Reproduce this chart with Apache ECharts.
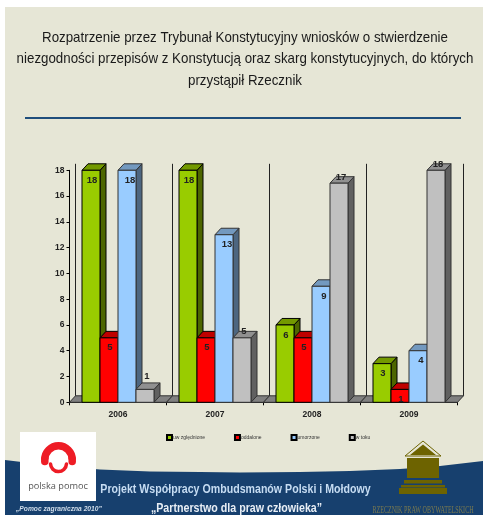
<!DOCTYPE html>
<html><head><meta charset="utf-8">
<style>html,body{margin:0;padding:0;background:#fff;overflow:hidden}#c{width:483px;height:515px}</style>
<script src="https://cdn.jsdelivr.net/npm/echarts@6/dist/echarts.min.js"></script>
</head><body><div id="c"></div>
<script>
const categories = ['2006','2007','2008','2009'];
const uwzglednione = [18,18,6,3];
const oddalone = [5,5,5,1];
const umorzone = [18,13,9,4];
const wToku = [1,5,17,18];
const yTicks = {min:0,max:18,interval:2};
const titleText = 'Rozpatrzenie przez Trybunał Konstytucyjny wniosków o stwierdzenie\nniezgodności przepisów z Konstytucją oraz skarg konstytucyjnych, do których\nprzystąpił Rzecznik';

const DX=6, DY=6.5, BAR=18;
const FONT='"Liberation Sans",Arial,sans-serif';
const NAVY='#17406e', OLIVE='#6d6300', RED='#ee1c25', BG='#e6e6d6';

function barSeries(name,vals,idx,c,lab){
  return {name,type:'custom',coordinateSystem:'cartesian2d',
    data:vals.map((v,i)=>[i,v]),encode:{x:0,y:1},clip:false,
    itemStyle:{color:c.front,borderColor:'#000',borderWidth:0.8},
    renderItem(params,api){
      const p=api.coord([api.value(0),api.value(1)]), base=api.coord([api.value(0),0]);
      const x=p[0]+(idx-2)*BAR, y=p[1], b=base[1], w=BAR;
      const ln={stroke:c.line,lineWidth:1};
      const ly=lab.inside? y+lab.dy : y-(api.value(1)===1?13:6);
      return {type:'group',children:[
        {type:'polygon',shape:{points:[[x+w,y],[x+w+DX,y-DY],[x+w+DX,b-DY],[x+w,b]]},style:{fill:c.side,...ln}},
        {type:'polygon',shape:{points:[[x,y],[x+DX,y-DY],[x+w+DX,y-DY],[x+w,y]]},style:{fill:c.top,...ln}},
        {type:'rect',shape:{x,y,width:w,height:b-y},style:{fill:c.front,...ln}},
        {type:'text',style:{text:String(api.value(1)),x:x+w/2+lab.dx,y:ly,align:'center',verticalAlign:'middle',
          font:'bold 9.5px '+FONT,fill:'#222'}}
      ]};
    }};
}

const backdrop={type:'custom',name:'tlo',coordinateSystem:'cartesian2d',silent:true,
  data:categories.map((c,i)=>[i,0]),encode:{x:0,y:1},clip:false,
  renderItem(params,api){
    const p=api.coord([api.value(0),0]), top=api.coord([api.value(0),yTicks.max]);
    const half=api.size([1,0])[0]/2, x0=p[0]-half, x1=p[0]+half, b=p[1];
    const kids=[
      {type:'polygon',shape:{points:[[x0,b],[x0+DX,b-DY],[x1+DX,b-DY],[x1,b]]},style:{fill:'#808080',stroke:'#333',lineWidth:1}},
      {type:'line',shape:{x1:x0+DX,y1:top[1]-DY,x2:x0+DX,y2:b-DY},style:{stroke:'#222',lineWidth:1}}
    ];
    if(params.dataIndex===categories.length-1)
      kids.push({type:'line',shape:{x1:x1+DX,y1:top[1]-DY,x2:x1+DX,y2:b-DY},style:{stroke:'#222',lineWidth:1}});
    return {type:'group',children:kids};
  }};

const chart=echarts.init(document.getElementById('c'),null,{renderer:'canvas'});
chart.setOption({
  animation:false,backgroundColor:'#fff',textStyle:{fontFamily:FONT},
  grid:{left:69.5,right:25.5,top:170.3,bottom:112.7},
  xAxis:{type:'category',data:categories,
    axisLine:{lineStyle:{color:'#000',width:1}},axisTick:{show:true,length:3,alignWithLabel:false,lineStyle:{color:'#000'}},
    axisLabel:{fontFamily:FONT,fontWeight:'bold',fontSize:8.5,color:'#222',margin:8}},
  yAxis:{type:'value',min:yTicks.min,max:yTicks.max,interval:yTicks.interval,
    axisLine:{show:true,lineStyle:{color:'#000',width:1}},axisTick:{show:true,length:3,lineStyle:{color:'#000'}},
    splitLine:{show:false},
    axisLabel:{fontFamily:FONT,fontWeight:'bold',fontSize:8.5,color:'#222',margin:5}},
  legend:{data:['uw zględnione','oddalone','umorzone','w toku'],left:166,top:434,itemWidth:5,itemHeight:5,itemGap:29,
    icon:'rect',padding:0,textStyle:{fontFamily:FONT,fontSize:5,color:'#333',padding:[0,0,0,-4]}},
  series:[backdrop,
    barSeries('uw zględnione',uwzglednione,0,{front:'#99cc00',top:'#739900',side:'#4d6600',line:'#000'},{inside:true,dx:1,dy:10}),
    barSeries('oddalone',oddalone,1,{front:'#ff0000',top:'#bf0000',side:'#800000',line:'#000'},{inside:true,dx:1,dy:10}),
    barSeries('umorzone',umorzone,2,{front:'#99ccff',top:'#7399bf',side:'#4d6680',line:'#333'},{inside:true,dx:3,dy:10}),
    barSeries('w toku',wToku,3,{front:'#c0c0c0',top:'#909090',side:'#606060',line:'#333'},{inside:false,dx:2,dy:0})
  ],
  graphic:{elements:[
    {type:'rect',z:-20,silent:true,shape:{x:5,y:7,width:478,height:508},style:{fill:BG}},
    {type:'text',z:5,x:245,y:27,scaleX:0.888,style:{text:titleText,x:0,y:0,align:'center',verticalAlign:'top',lineHeight:21.5,font:'15px '+FONT,fill:'#1a1a1a'}},
    {type:'line',z:-10,shape:{x1:25,y1:118,x2:461,y2:118},style:{stroke:'#1f4e7c',lineWidth:2}},
    {type:'polygon',z:-10,shape:{points:[[5,460],[30,463],[60,466],[100,469.5],[150,471.5],[200,472],[240,472.5],[300,472],[350,471],[400,469],[440,466],[483,461],[483,515],[5,515]]},style:{fill:NAVY}},
    {type:'rect',z:50,shape:{x:20,y:432,width:76,height:69},style:{fill:'#fff'}},
    {type:'arc',z:51,shape:{cx:58.5,cy:459.5,r:13.7,startAngle:Math.PI,endAngle:2*Math.PI},style:{fill:'none',stroke:RED,lineWidth:7.5}},
    {type:'line',z:51,shape:{x1:44.8,y1:459,x2:44.8,y2:461.5},style:{stroke:RED,lineWidth:7.5,lineCap:'round'}},
    {type:'line',z:51,shape:{x1:72.2,y1:459,x2:72.2,y2:461.5},style:{stroke:RED,lineWidth:7.5,lineCap:'round'}},
    {type:'arc',z:51,shape:{cx:58.5,cy:463.5,r:8,startAngle:0.05,endAngle:Math.PI-0.05},style:{fill:'none',stroke:RED,lineWidth:3.5,lineCap:'round'}},
    {type:'text',z:51,style:{text:'polska pomoc',x:58,y:486,align:'center',verticalAlign:'middle',font:'9.2px "Open Sans",sans-serif',fill:'#555'}},
    {type:'text',z:52,x:235.5,y:490,scaleX:0.885,style:{text:'Projekt Współpracy Ombudsmanów Polski i Mołdowy',x:0,y:0,align:'center',verticalAlign:'middle',font:'bold 12px '+FONT,fill:'#c6dcf2'}},
    {type:'text',z:52,x:236.5,y:508.5,scaleX:0.888,style:{text:'„Partnerstwo dla praw człowieka”',x:0,y:0,align:'center',verticalAlign:'middle',font:'bold 12px '+FONT,fill:'#e8eef5'}},
    {type:'text',z:52,style:{text:'„Pomoc zagraniczna 2010”',x:16,y:509,align:'left',verticalAlign:'middle',font:'italic bold 6.7px '+FONT,fill:'#cfdcea'}},
    {type:'polygon',z:52,shape:{points:[[423,441],[441,456],[405,456]]},style:{fill:BG,stroke:OLIVE,lineWidth:1}},
    {type:'polygon',z:52,shape:{points:[[423,444.5],[436,455],[410,455]]},style:{fill:OLIVE}},
    {type:'rect',z:52,shape:{x:407,y:458,width:32,height:20},style:{fill:OLIVE}},
    {type:'rect',z:52,shape:{x:404,y:480,width:38,height:3.5},style:{fill:OLIVE}},
    {type:'rect',z:52,shape:{x:401,y:485,width:44,height:2.5},style:{fill:OLIVE}},
    {type:'rect',z:52,shape:{x:399,y:488,width:48,height:6},style:{fill:OLIVE}},
    {type:'text',z:52,x:423,y:510,scaleX:0.64,style:{text:'RZECZNIK PRAW OBYWATELSKICH',x:0,y:0,align:'center',verticalAlign:'middle',font:'9.5px "Liberation Serif",serif',fill:'#7a7a50'}}
  ]}
});
</script></body></html>
